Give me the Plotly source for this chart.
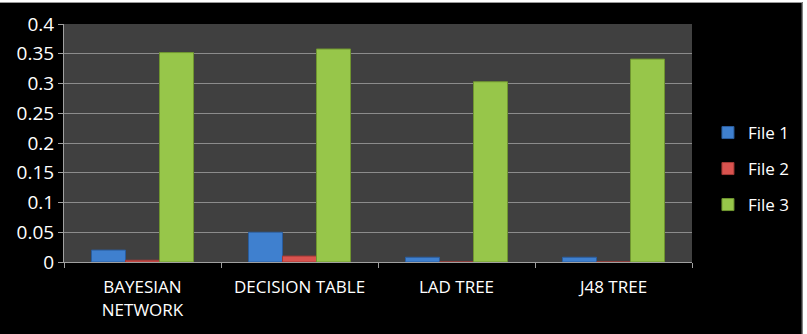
import plotly.graph_objects as go

categories = ["BAYESIAN<br>NETWORK", "DECISION TABLE", "LAD TREE", "J48 TREE"]
file1 = [0.020, 0.050, 0.008, 0.008]
file2 = [0.003, 0.010, 0.0, 0.0]
file3 = [0.352, 0.358, 0.303, 0.341]
series_names = ["File 1", "File 2", "File 3"]
colors = ["#3f80cf", "#d9534f", "#97c64a"]
edge_colors = ["#2a5d9e", "#a33a36", "#6f9530"]
legend_ids = ["legend", "legend2", "legend3"]

# plot area in pixels: x 64..694, y 24..262
L, R, T, B = 64, 694, 24, 262
W, H = 807, 334


def px_x(px):
    return (px - L) / (R - L)


def px_y(py):
    return (B - py) / (B - T)


fig = go.Figure()
for name, vals, c, e, lg in zip(series_names, [file1, file2, file3], colors, edge_colors, legend_ids):
    fig.add_trace(go.Bar(x=categories, y=vals, name=name, legend=lg,
                         marker=dict(color=c, line=dict(color=e, width=1))))

font = "Open Sans, Liberation Sans, sans-serif"
legend_rows = [133, 169, 205]
legend_common = dict(xanchor="left", yanchor="middle", font=dict(size=17, color="white"),
                     itemwidth=30, bgcolor="rgba(0,0,0,0)", borderwidth=0)
legends = {}
for lg, row in zip(legend_ids, legend_rows):
    legends[lg] = dict(x=px_x(710), y=px_y(row), **legend_common)

fig.update_layout(
    width=W, height=H,
    paper_bgcolor="black", plot_bgcolor="#404040",
    margin=dict(l=L, r=W - R, t=T, b=H - B),
    barmode="group", bargap=0.35, bargroupgap=0.0,
    font=dict(family=font, color="white", size=17),
    showlegend=True,
    shapes=[
        dict(type="rect", xref="paper", yref="paper", x0=px_x(-5), x1=px_x(W + 5),
             y0=px_y(2), y1=px_y(-5), fillcolor="white", line=dict(width=0), layer="above"),
        dict(type="rect", xref="paper", yref="paper", x0=px_x(805), x1=px_x(W + 5),
             y0=px_y(W), y1=px_y(-5), fillcolor="white", line=dict(width=0), layer="above"),
        dict(type="line", xref="paper", yref="paper", x0=px_x(-5), x1=px_x(804.5),
             y0=px_y(2.5), y1=px_y(2.5), line=dict(color="#999999", width=1)),
        dict(type="line", xref="paper", yref="paper", x0=px_x(804.5), x1=px_x(804.5),
             y0=px_y(2.5), y1=px_y(H + 5), line=dict(color="#999999", width=1)),
    ],
    **legends,
)
fig.update_xaxes(showgrid=False, tickson="boundaries", ticks="outside", ticklen=5,
                 tickcolor="#a0a0a0", linecolor="#a0a0a0", showline=True,
                 ticklabelstandoff=10,
                 tickfont=dict(size=17, color="white"))
fig.update_yaxes(range=[0, 0.4], dtick=0.05, showgrid=True, gridcolor="#8c8c8c",
                 gridwidth=1, zeroline=False, showline=True, linecolor="#a0a0a0",
                 ticks="outside", ticklen=5,
                 tickcolor="#a0a0a0", tickfont=dict(size=19, color="white"),
                 tickformat="~g")
fig.write_html("out.html")
